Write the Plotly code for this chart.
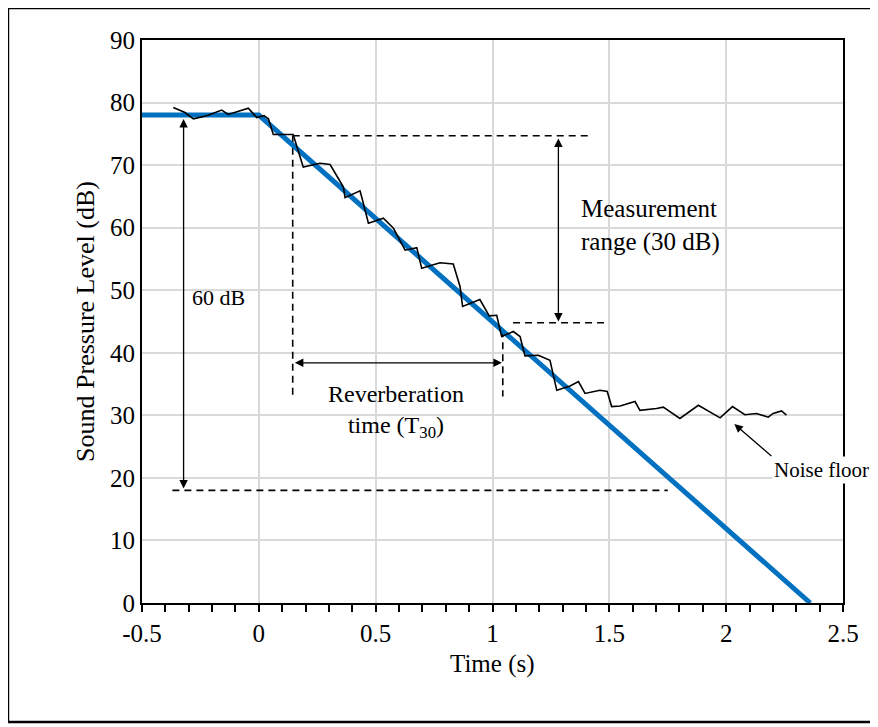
import plotly.graph_objects as go

# ---- data ----
noise_t = [-0.366, -0.316, -0.28, -0.223, -0.159, -0.131, -0.045, -0.009, 0.022, 0.041,
           0.062, 0.147, 0.19, 0.262, 0.305, 0.362, 0.369, 0.433, 0.44, 0.469,
           0.533, 0.576, 0.626, 0.676, 0.697, 0.775, 0.832, 0.861, 0.872, 0.946,
           0.986, 1.018, 1.039, 1.089, 1.118, 1.139, 1.196, 1.246, 1.275, 1.332,
           1.368, 1.396, 1.46, 1.491, 1.51, 1.546, 1.61, 1.631, 1.702, 1.731,
           1.802, 1.881, 1.974, 2.027, 2.08, 2.13, 2.18, 2.201, 2.237, 2.258]
noise_db = [79.2, 78.4, 77.4, 77.9, 78.8, 78.1, 79.1, 77.6, 77.9, 77.4,
            74.9, 74.9, 69.7, 70.3, 70.1, 66.5, 64.8, 65.9, 64.95, 60.7,
            61.5, 59.9, 56.4, 56.8, 53.5, 54.4, 54.2, 50.6, 47.4, 48.5,
            45.9, 46.0, 42.6, 43.4, 42.6, 39.5, 39.6, 38.8, 34.0, 34.7,
            35.4, 33.5, 34.0, 33.8, 31.4, 31.5, 32.2, 30.8, 31.1, 31.3,
            29.5, 31.6, 29.6, 31.4, 30.1, 30.3, 29.7, 30.3, 30.7, 30.05]

fit_t = [-0.5, 0.0, 2.36]
fit_db = [78, 78, 0]

# dashed guide lines: (t list, dB list)
guide_top_t, guide_top_db = [0.145, 1.42], [74.7, 74.7]
guide_left_t, guide_left_db = [0.145, 0.145], [74.7, 33.0]
guide_mid_t, guide_mid_db = [1.088, 1.49], [44.8, 44.8]
guide_right_t, guide_right_db = [1.044, 1.044], [43.6, 33.0]
guide_bot_t, guide_bot_db = [-0.37, 1.75], [18.0, 18.0]

# double arrows: (x0, y0, x1, y1)
arrow_60db = [-0.322, 77.6, -0.322, 18.3]
arrow_30db = [1.282, 74.5, 1.282, 45.0]
arrow_t30 = [0.148, 38.4, 1.04, 38.4]
arrow_noise = [2.2, 23.3, 2.035, 28.6]

x_ticks = [-0.5, 0, 0.5, 1, 1.5, 2, 2.5]
x_tick_text = ["-0.5", "0", "0.5", "1", "1.5", "2", "2.5"]
y_ticks = [0, 10, 20, 30, 40, 50, 60, 70, 80, 90]

FONT = "Liberation Serif, Times New Roman, serif"
FS = 25

fig = go.Figure()

for gt, gd in [(guide_top_t, guide_top_db), (guide_left_t, guide_left_db),
               (guide_mid_t, guide_mid_db), (guide_right_t, guide_right_db),
               (guide_bot_t, guide_bot_db)]:
    fig.add_trace(go.Scatter(x=gt, y=gd, mode="lines",
                             line=dict(color="black", width=1.6, dash="7px,5px"),
                             hoverinfo="skip", showlegend=False))

fig.add_trace(go.Scatter(x=fit_t, y=fit_db, mode="lines",
                         line=dict(color="#0070C0", width=5),
                         showlegend=False))
fig.add_trace(go.Scatter(x=noise_t, y=noise_db, mode="lines",
                         line=dict(color="black", width=1.6),
                         showlegend=False))

annotations = []
for a in [arrow_60db, arrow_30db, arrow_t30]:
    annotations.append(dict(x=a[2], y=a[3], ax=a[0], ay=a[1], xref="x", yref="y",
                            axref="x", ayref="y", text="", showarrow=True,
                            arrowhead=2, startarrowhead=2, arrowside="end+start",
                            arrowsize=1.3, startarrowsize=1.3, arrowwidth=1.3,
                            arrowcolor="black"))
annotations.append(dict(x=arrow_noise[2], y=arrow_noise[3], ax=arrow_noise[0],
                        ay=arrow_noise[1], xref="x", yref="y", axref="x", ayref="y",
                        text="", showarrow=True, arrowhead=2, arrowsize=1.3,
                        arrowwidth=1.3, arrowcolor="black"))

texts = [
    ("60 dB", -0.295, 48.8, "left", 22, "rgba(255,255,255,0)"),
    ("Measurement<br>range (30 dB)", 1.37, 60.3, "left", 25, "rgba(255,255,255,0)"),
    ("Reverberation<br>time (T<sub>30</sub>)", 0.587, 30.6, "center", 24, "rgba(255,255,255,0)"),
    ("Noise floor", 2.41, 21.3, "center", 21, "white"),
]
for txt, tx, ty, al, fs, bg in texts:
    annotations.append(dict(x=tx, y=ty, xref="x", yref="y", text=txt, showarrow=False,
                            xanchor=al, align=al, bgcolor=bg,
                            font=dict(family=FONT, size=fs, color="black")))

# x-axis title placed explicitly
annotations.append(dict(x=0.5, y=-0.108, xref="paper", yref="paper", text="Time (s)",
                        showarrow=False, xanchor="center", yanchor="middle",
                        font=dict(family=FONT, size=25, color="black")))

fig.update_layout(
    width=878, height=727,
    margin=dict(l=134, r=43, t=32, b=132),
    paper_bgcolor="white", plot_bgcolor="white",
    font=dict(family=FONT, size=FS, color="black"),
    annotations=annotations,
    shapes=[dict(type="rect", xref="paper", yref="paper",
                 x0=-0.1912, x1=1.0457, y0=-0.2114, y1=1.0568,
                 line=dict(color="black", width=2.5), layer="below")],
    xaxis=dict(range=[-0.5, 2.5], tickvals=x_ticks, ticktext=x_tick_text,
               showgrid=True, gridcolor="#d9d9d9", gridwidth=1.6,
               showline=True, linecolor="black", linewidth=2, mirror=True,
               ticks="outside", ticklen=7, tickwidth=1.5, tickcolor="black",
               minor=dict(dtick=0.1, ticks="outside", ticklen=7, tickwidth=1.5,
                          tickcolor="black", showgrid=False),
               zeroline=False,
               tickfont=dict(family=FONT, size=FS)),
    yaxis=dict(range=[0, 90], tickvals=y_ticks,
               showgrid=True, gridcolor="#d9d9d9", gridwidth=1.6,
               showline=True, linecolor="black", linewidth=2, mirror=True,
               ticks="", zeroline=False,
               title=dict(text="Sound Pressure Level (dB)", font=dict(family=FONT, size=26), standoff=8),
               tickfont=dict(family=FONT, size=FS)),
)

fig.write_html("out.html")
